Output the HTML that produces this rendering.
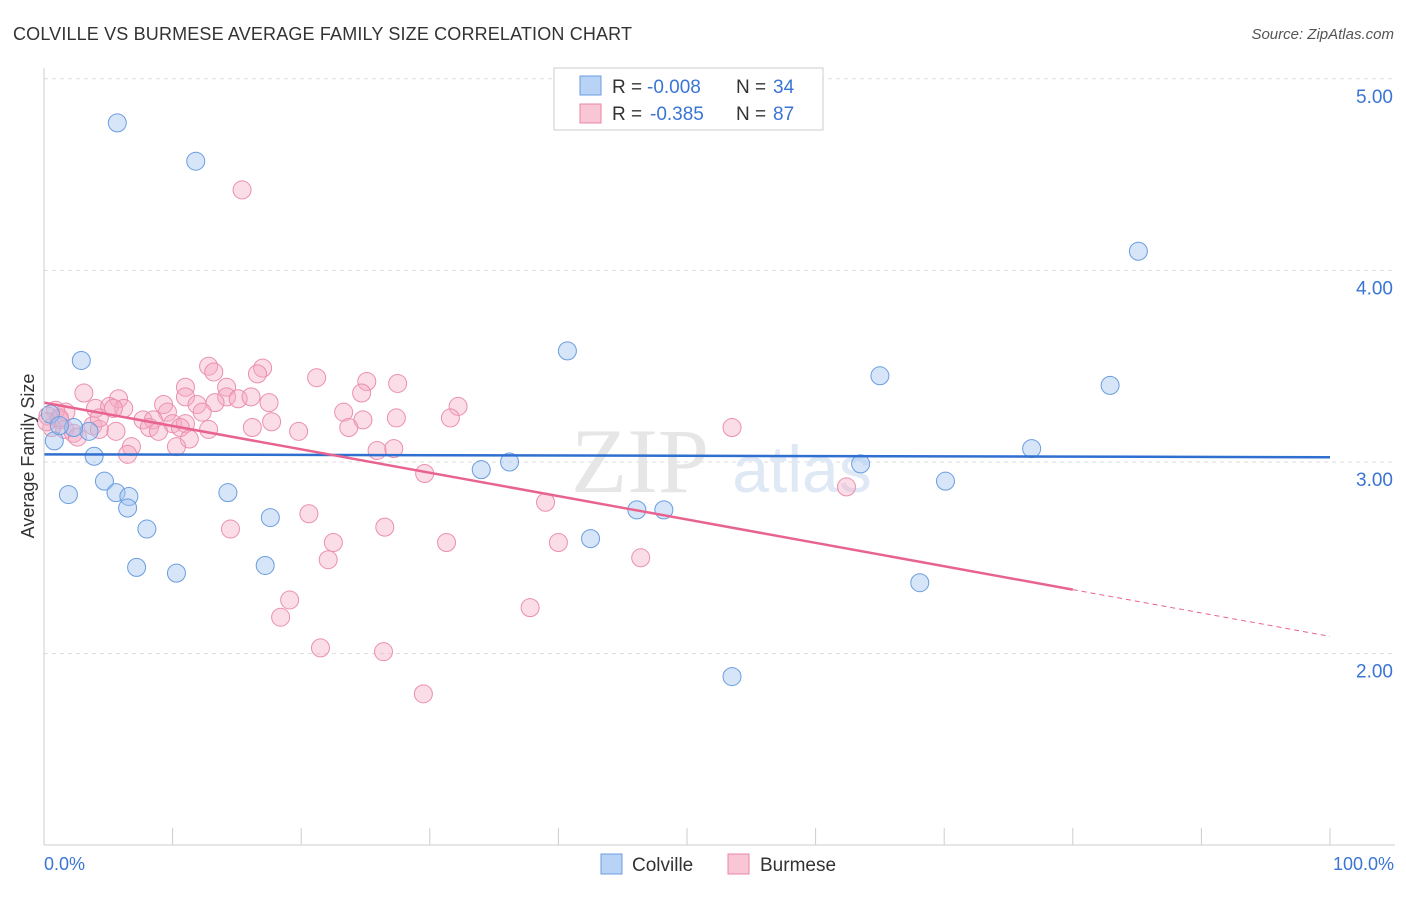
<!DOCTYPE html>
<html><head><meta charset="utf-8"><style>
body{margin:0;background:#fff;font-family:"Liberation Sans",sans-serif;}
svg text{font-family:"Liberation Sans",sans-serif;}
</style></head><body>
<svg id="chart" width="1406" height="892">
<text x="13" y="40" font-size="18" fill="#333" textLength="619">COLVILLE VS BURMESE AVERAGE FAMILY SIZE CORRELATION CHART</text>
<text x="1394" y="39" font-size="15" fill="#555" text-anchor="end" font-style="italic">Source: ZipAtlas.com</text>
<g id="grid"></g>
<text x="640" y="492" font-size="92" fill="#e6e6e6" style="font-family:'Liberation Serif',serif" text-anchor="middle">ZIP</text>
<text x="802" y="492" font-size="66" fill="#dfe9f6" text-anchor="middle">atlas</text>
<g id="marks"></g>
<line x1="44" y1="68" x2="44" y2="845" stroke="#ccc"/>
<line x1="44" y1="845" x2="1395" y2="845" stroke="#ccc"/>
<text x="44" y="870" font-size="18" fill="#3a75d4">0.0%</text>
<text x="1394" y="870" font-size="18" fill="#3a75d4" text-anchor="end">100.0%</text>
<text transform="translate(34,456) rotate(-90)" font-size="18" fill="#333" text-anchor="middle">Average Family Size</text>
<g>
<rect x="554" y="68" width="269" height="62" fill="#fff" stroke="#ccc"/>
<rect x="580" y="76" width="21" height="19" fill="#b8d3f5" stroke="#6a9de0"/>
<rect x="580" y="104" width="21" height="19" fill="#f9c6d6" stroke="#e986a8"/>
<text x="612" y="93" font-size="19" fill="#333">R =</text>
<text x="647" y="93" font-size="19" fill="#3a75d4">-0.008</text>
<text x="736" y="93" font-size="19" fill="#333">N =</text>
<text x="773" y="93" font-size="19" fill="#3a75d4">34</text>
<text x="612" y="120" font-size="19" fill="#333">R =</text>
<text x="650" y="120" font-size="19" fill="#3a75d4">-0.385</text>
<text x="736" y="120" font-size="19" fill="#333">N =</text>
<text x="773" y="120" font-size="19" fill="#3a75d4">87</text>
</g>
<g>
<rect x="601" y="854" width="21" height="20" fill="#b8d3f5" stroke="#6a9de0"/>
<text x="632" y="871" font-size="19" fill="#333">Colville</text>
<rect x="728" y="854" width="21" height="20" fill="#f9c6d6" stroke="#e986a8"/>
<text x="760" y="871" font-size="19" fill="#333">Burmese</text>
</g>
</svg>
<script>
const yTicks=[2,3,4,5];
const yTickLabels=["2.00","3.00","4.00","5.00"];
const xTicks=[10,20,30,40,50,60,70,80,90,100];
const colvilleX=[5.7,11.8,85.1,2.9,40.7,65.0,82.9,0.8,3.5,2.3,3.9,34.0,36.2,63.5,76.8,70.1,1.9,4.7,5.6,6.6,6.5,14.3,8.0,17.6,46.1,48.2,42.5,7.2,10.3,17.2,68.1,53.5,0.5,1.2];
const colvilleY=[4.77,4.57,4.10,3.53,3.58,3.45,3.40,3.11,3.16,3.18,3.03,2.96,3.00,2.99,3.07,2.90,2.83,2.90,2.84,2.82,2.76,2.84,2.65,2.71,2.75,2.75,2.60,2.45,2.42,2.46,2.37,1.88,3.25,3.19];
const burmeseX=[15.4,12.8,17.0,13.2,16.6,21.2,25.1,27.5,3.1,11.0,14.2,24.7,11.0,14.2,15.1,5.8,16.1,9.3,11.9,13.3,17.5,32.2,4.0,5.1,6.2,5.4,12.3,9.6,23.3,1.7,0.9,31.6,27.4,24.8,17.7,7.7,8.5,10.0,11.0,8.2,3.8,4.3,1.2,1.6,2.3,8.9,10.6,12.8,16.2,19.8,23.7,53.5,2.6,11.3,6.8,10.3,25.9,27.2,6.5,29.6,39.0,62.4,20.6,14.5,26.5,22.5,31.3,40.0,22.1,46.4,19.1,18.4,37.8,21.5,26.4,29.5,0.3,0.6,1.2,4.3,0.2,5.6];
const burmeseY=[4.42,3.50,3.49,3.47,3.46,3.44,3.42,3.41,3.36,3.39,3.39,3.36,3.34,3.34,3.33,3.33,3.34,3.30,3.30,3.31,3.31,3.29,3.28,3.29,3.28,3.28,3.26,3.26,3.26,3.26,3.27,3.23,3.23,3.22,3.21,3.22,3.22,3.20,3.20,3.18,3.19,3.17,3.22,3.17,3.15,3.16,3.18,3.17,3.18,3.16,3.18,3.18,3.13,3.12,3.08,3.08,3.06,3.07,3.04,2.94,2.79,2.87,2.73,2.65,2.66,2.58,2.58,2.58,2.49,2.50,2.28,2.19,2.24,2.03,2.01,1.79,3.24,3.18,3.23,3.23,3.21,3.16];
const colvilleTrend=[3.04,3.025];
const burmeseTrend=[3.31,2.09];
const burmeseSolidEnd=80;
const X=v=>44+(v/100)*1286;
const Y=v=>462-(v-3)*191.6;
const NS="http://www.w3.org/2000/svg";
function mk(tag,attrs,parent){const e=document.createElementNS(NS,tag);for(const k in attrs)e.setAttribute(k,attrs[k]);parent.appendChild(e);return e;}
const grid=document.getElementById('grid');
yTicks.forEach((t,i)=>{
 const l=mk('line',{x1:44,x2:1395,y1:Y(t),y2:Y(t),stroke:'#ddd','stroke-dasharray':'4,4'},grid);
 
 
 const tx=mk('text',{x:1393,y:Y(t)+24,'font-size':19,fill:'#3a75d4','text-anchor':'end'},grid);
 tx.textContent=yTickLabels[i];
 
 
});
xTicks.forEach(t=>{
 const l=mk('line',{x1:X(t),x2:X(t),y1:828,y2:845,stroke:'#ccc'},grid);
 
 
});
const marks=document.getElementById('marks');
burmeseX.forEach((x,i)=>{
 const c=mk('circle',{cx:X(x),cy:Y(burmeseY[i]),r:9,fill:'rgba(246,170,196,0.4)',stroke:'#eb8fb0','stroke-width':1},marks);
 
 
});
colvilleX.forEach((x,i)=>{
 const c=mk('circle',{cx:X(x),cy:Y(colvilleY[i]),r:9,fill:'rgba(165,198,240,0.45)',stroke:'#6a9de0','stroke-width':1},marks);
 
 
});
const bAt=x=>burmeseTrend[0]+(burmeseTrend[1]-burmeseTrend[0])*x/100;
const t1=mk('line',{x1:X(0),y1:Y(colvilleTrend[0]),x2:X(100),y2:Y(colvilleTrend[1]),stroke:'#2f6fd0','stroke-width':2.5},marks);


const t2=mk('line',{x1:X(0),y1:Y(bAt(0)),x2:X(burmeseSolidEnd),y2:Y(bAt(burmeseSolidEnd)),stroke:'#e8648f','stroke-width':2.5},marks);


const t3=mk('line',{x1:X(burmeseSolidEnd),y1:Y(bAt(burmeseSolidEnd)),x2:X(100),y2:Y(bAt(100)),stroke:'#e8648f','stroke-width':1,'stroke-dasharray':'5,4'},marks);


</script>
</body></html>
